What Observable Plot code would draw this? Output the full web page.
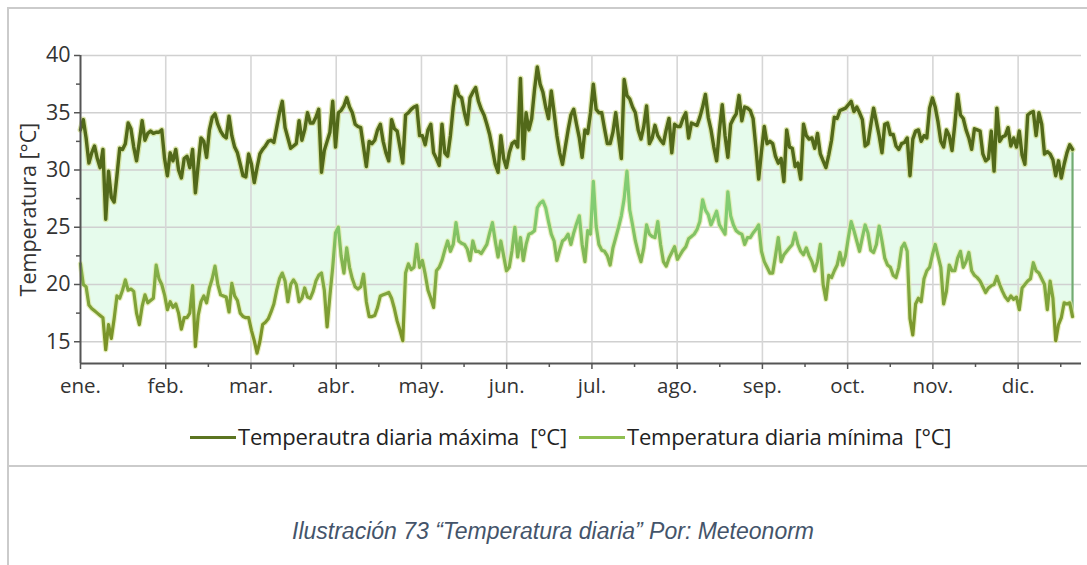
<!DOCTYPE html>
<html><head><meta charset="utf-8">
<script src="https://cdn.jsdelivr.net/npm/d3@7"></script>
<script src="https://cdn.jsdelivr.net/npm/@observablehq/plot@0.6"></script>
<style>
html,body{margin:0;padding:0;background:#fff;}
body{width:1087px;height:565px;position:relative;overflow:hidden;font-family:"Open Sans",sans-serif;}
#frame{position:absolute;left:7px;top:7px;width:1100px;height:600px;border-top:2px solid #cbcbcb;border-left:2px solid #cbcbcb;}
#sep{position:absolute;left:7px;width:1090px;top:465px;height:2px;background:#cbcbcb;}
#chart{position:absolute;left:0;top:0;}
.sw{position:absolute;height:3px;top:436px;}
.lt{position:absolute;top:423px;font-size:22px;line-height:26px;color:#222;white-space:nowrap;letter-spacing:-0.2px;}
#caption{position:absolute;left:0;width:1106px;text-align:center;top:518px;font-family:"Liberation Sans",Arial,sans-serif;font-style:italic;font-size:23px;color:#44546a;white-space:nowrap;}
</style></head>
<body>
<div id="frame"></div>
<div id="chart"></div>
<div class="sw" style="left:190px;width:46px;background:#5b7420"></div>
<div class="lt" id="lt1" style="left:238px">Temperautra diaria máxima&nbsp; [°C]</div>
<div class="sw" style="left:579px;width:46px;background:#8fbf50"></div>
<div class="lt" id="lt2" style="left:627px">Temperatura diaria mínima&nbsp; [°C]</div>
<div id="sep"></div>
<div id="caption">Ilustración 73 “Temperatura diaria” Por: Meteonorm</div>
<script>
const monthLabels = ["ene.","feb.","mar.","abr.","may.","jun.","jul.","ago.","sep.","oct.","nov.","dic."];
const yTickValues = [15,20,25,30,35,40];
const yMinorTicks = [17.5,22.5,27.5,32.5,37.5];

const maxTemp = [
33.5,34.4,32.8,30.6,31.5,32.1,31.0,30.2,31.8,25.7,
29.9,27.6,27.2,29.5,31.9,31.8,32.3,34.1,33.6,32.0,
30.8,32.5,34.3,32.6,33.2,33.4,33.2,33.3,33.3,33.5,
31.0,29.5,31.5,30.8,31.8,30.0,29.3,31.0,31.2,30.2,
31.8,28.0,30.5,32.8,32.5,31.1,33.5,34.6,34.9,34.0,
33.4,33.0,32.8,34.7,33.0,32.0,31.5,30.5,29.5,29.4,
31.4,30.5,28.9,30.2,31.4,31.8,32.1,32.5,32.6,32.4,
33.7,35.0,36.0,33.7,32.8,31.9,32.1,32.3,34.3,32.6,
33.5,35.0,34.1,34.1,34.6,35.3,29.8,31.7,32.5,33.3,
36.0,32.0,35.0,35.2,35.6,36.3,35.5,35.0,34.0,33.8,
33.7,32.0,30.3,32.5,32.3,32.6,33.5,34.0,32.5,31.5,
30.8,34.4,33.6,33.4,32.0,30.6,34.8,35.0,35.3,35.5,
35.6,33.0,33.0,32.2,33.5,34.0,31.5,31.0,30.4,34.0,
31.5,31.2,33.0,35.5,37.3,36.5,36.3,35.0,34.0,36.3,
36.8,37.2,36.0,35.3,34.8,34.0,33.1,31.8,30.5,29.8,
33.0,31.0,30.2,31.5,32.3,32.5,32.0,38.0,31.0,35.0,
33.5,34.5,37.0,39.0,37.5,36.8,35.5,34.5,36.9,35.0,
33.0,31.5,30.5,32.0,33.5,34.8,35.3,34.0,32.8,31.1,
33.5,33.2,35.0,37.5,35.3,35.0,35.0,33.6,32.3,32.3,
33.3,35.0,32.9,31.0,37.9,36.5,36.2,35.5,35.0,33.5,
32.7,33.8,35.6,32.3,32.8,33.9,33.0,32.6,32.3,33.5,
34.5,31.5,34.0,33.8,33.8,34.5,35.0,32.8,34.1,34.0,
33.9,34.6,35.5,36.6,34.6,33.5,32.0,30.8,33.5,35.7,
33.0,31.1,34.0,34.5,34.9,36.5,34.3,35.5,35.4,35.2,
34.5,32.0,29.2,31.6,33.8,32.3,32.5,32.3,31.2,30.6,
31.0,29.0,33.5,32.0,31.9,30.3,30.6,29.2,34.0,33.0,
32.7,32.8,31.9,33.2,31.4,30.8,30.2,31.3,32.6,34.6,
34.5,35.2,35.3,35.4,35.7,36.0,35.1,35.5,35.0,34.4,
32.1,32.3,33.9,35.4,34.2,33.0,31.5,34.0,34.1,33.1,
33.1,32.1,31.8,32.3,32.4,32.8,29.5,32.7,33.4,33.5,
32.5,33.0,32.8,35.4,36.3,35.5,34.2,32.5,32.0,33.5,
33.0,31.7,34.0,36.6,34.8,34.5,33.5,32.8,31.8,33.6,
33.5,33.4,31.4,30.8,31.0,33.4,29.9,35.4,32.5,32.9,
33.0,33.7,32.1,32.8,32.0,33.4,31.3,30.5,34.8,35.0,
35.1,33.0,35.0,34.0,31.4,31.6,31.4,30.9,29.5,30.8,
29.3,30.5,31.5,32.2,31.8
];

const minTemp = [
21.8,20.0,19.8,18.2,17.9,17.7,17.5,17.3,17.1,14.3,
16.5,15.3,17.0,19.0,18.8,19.5,20.4,19.5,19.6,19.4,
17.5,16.5,18.1,19.1,18.4,18.6,18.8,21.7,20.5,20.0,
19.1,17.8,18.5,18.0,18.3,17.5,16.1,17.1,17.1,17.5,
19.9,14.6,17.3,18.5,19.0,18.4,19.7,20.5,21.6,20.0,
19.1,19.0,18.9,17.6,20.1,19.0,18.6,17.5,17.2,17.1,
17.1,16.0,15.1,14.0,15.0,16.5,16.7,17.0,17.6,18.3,
19.5,20.5,21.0,20.3,18.5,20.0,20.4,20.0,18.5,18.8,
19.7,18.9,18.8,19.4,20.3,20.8,21.0,19.5,16.3,19.0,
21.5,24.5,25.0,22.5,21.0,23.2,21.5,20.5,19.8,19.6,
19.8,20.9,18.5,17.2,17.2,17.3,18.0,19.0,19.1,19.2,
19.3,18.8,17.9,16.8,16.0,15.1,21.0,21.8,21.3,21.5,
23.5,21.5,22.1,20.9,19.5,18.8,18.0,21.2,21.5,22.1,
23.0,23.8,22.9,23.5,25.4,23.8,23.6,23.5,23.1,22.1,
23.8,22.9,22.9,22.7,23.1,23.5,24.5,25.4,23.8,22.4,
23.8,22.5,21.2,21.5,23.0,25.0,22.4,24.1,22.1,23.5,
24.4,24.5,24.7,26.7,27.1,27.3,26.7,25.5,24.4,23.8,
22.1,23.0,23.8,24.0,24.4,23.5,24.5,25.3,26.0,23.5,
22.0,24.7,24.4,29.0,25.1,23.5,23.0,22.9,22.5,21.7,
23.2,24.1,25.0,26.0,27.5,29.9,26.5,25.2,23.8,22.8,
22.0,23.2,25.2,24.4,24.2,24.1,25.5,23.5,22.0,21.6,
22.3,22.8,23.3,22.2,22.6,23.0,23.3,24.0,24.2,24.4,
24.8,25.5,27.4,26.5,26.1,25.2,25.8,26.4,25.2,24.8,
24.4,28.1,26.0,25.2,24.7,24.5,24.4,23.5,24.1,24.1,
24.5,24.8,25.2,22.9,22.0,21.5,21.0,21.0,22.5,24.1,
22.0,22.6,22.9,23.2,23.5,24.5,23.5,22.9,22.6,23.2,
22.5,22.0,21.2,22.0,23.5,20.0,18.7,20.8,20.6,21.2,
21.7,22.8,21.7,22.5,24.1,25.5,24.7,23.8,22.9,24.1,
25.2,24.5,23.0,22.8,23.5,25.1,23.8,22.3,21.7,21.5,
20.8,20.6,21.5,23.2,23.6,22.9,17.0,15.6,18.3,18.8,
18.5,20.5,21.2,21.5,22.6,23.5,22.5,21.5,18.3,19.4,
21.7,21.2,21.2,22.3,22.9,21.5,22.0,22.8,21.2,20.8,
20.6,20.3,19.8,19.3,19.7,19.9,20.0,20.7,20.0,19.4,
18.9,18.6,19.0,18.7,18.9,17.8,19.7,20.0,20.3,20.5,
21.9,21.2,21.0,20.5,20.0,17.8,20.3,18.8,15.1,16.5,
17.1,18.4,18.3,18.4,17.2
];

const daysPerMonth = 365 / 12;
const data = maxTemp.map((v, i) => ({d: i, max: v, min: minTemp[i]}));
const last = data[data.length - 1];
const months = monthLabels.map((label, k) => ({label, pos: k * daysPerMonth}));
const halfMonths = monthLabels.map((label, k) => (k + 0.5) * daysPerMonth);

const X0 = 0, X1 = 357.2, Y0 = 13.1, Y1 = 40;
const pxPerDay = (1081 - 80) / (X1 - X0);
const pxPerDeg = (363 - 55) / (Y1 - Y0);
const MIN_COLOR = "#7fb04a";

const chart = Plot.plot({
  width: 1087, height: 410,
  marginLeft: 80, marginRight: 6, marginTop: 55, marginBottom: 47,
  style: {background: "transparent", fontFamily: "'Open Sans', sans-serif", overflow: "visible"},
  x: {domain: [X0, X1], axis: null},
  y: {domain: [Y0, Y1], axis: null},
  marks: [
    Plot.areaY(data, {x: "d", y1: "min", y2: "max", fill: "#e6fbec", curve: "linear"}),
    Plot.ruleY(yTickValues, {x1: X0, x2: X1, stroke: "#d0d0d0", strokeWidth: 1.6}),
    Plot.ruleX(months.slice(1), {x: "pos", y1: Y0, y2: Y1, stroke: "#d6d6d6", strokeWidth: 1.6}),
    Plot.ruleX([last], {x: "d", y1: "min", y2: "max", stroke: "#72ab72", strokeWidth: 2.2}),
    Plot.line(data, {x: "d", y: "min", stroke: "#dfeaa6", strokeWidth: 5.5, strokeOpacity: 0.7}),
    Plot.line(data, {x: "d", y: "max", stroke: "#cfdc8c", strokeWidth: 6, strokeOpacity: 0.7}),
    Plot.line(data, {x: "d", y: "min", stroke: MIN_COLOR, strokeWidth: 3.2}),
    Plot.line(data, {x: "d", y: "max", stroke: "#52691a", strokeWidth: 3.4}),
    // axis lines
    Plot.ruleX([X0], {y1: Y0, y2: Y1, stroke: "#555", strokeWidth: 2}),
    Plot.ruleY([Y0], {x1: X0, x2: X1, stroke: "#555", strokeWidth: 2}),
    // y ticks
    Plot.ruleY(yTickValues, {x1: X0 - 6 / pxPerDay, x2: X0, stroke: "#555", strokeWidth: 1.5}),
    Plot.ruleY(yMinorTicks, {x1: X0 - 4 / pxPerDay, x2: X0, stroke: "#555", strokeWidth: 1.5}),
    Plot.text(yTickValues, {x: X0, y: d => d, text: d => String(d), textAnchor: "end", dx: -10, fontSize: 21.5, fill: "#333"}),
    // x ticks
    Plot.ruleX(months, {x: "pos", y1: Y0, y2: Y0 - 6 / pxPerDeg, stroke: "#555", strokeWidth: 1.5}),
    Plot.ruleX(halfMonths, {x: d => d, y1: Y0, y2: Y0 - 4 / pxPerDeg, stroke: "#555", strokeWidth: 1.5}),
    Plot.text(months, {x: "pos", y: Y0, text: "label", dy: 23, fontSize: 20.5, fill: "#333"}),
    // y label
    Plot.text(["Temperatura [°C]"], {x: X0, y: (Y0 + Y1) / 2, dx: -51, text: d => d, rotate: -90, fontSize: 21.5, fill: "#333"})
  ]
});
document.getElementById("chart").appendChild(chart);

// gradient for the minimum line (olive at low values, fresh green at high values)
const svg = chart.tagName.toLowerCase() === "svg" ? chart : chart.querySelector("svg");
const ns = "http://www.w3.org/2000/svg";
const defs = document.createElementNS(ns, "defs");
const grad = document.createElementNS(ns, "linearGradient");
grad.setAttribute("id", "minGrad");
grad.setAttribute("gradientUnits", "userSpaceOnUse");
grad.setAttribute("x1", "0"); grad.setAttribute("x2", "0");
grad.setAttribute("y1", "340"); grad.setAttribute("y2", "215");
[["0", "#7a9226"], ["0.5", "#82ac45"], ["1", "#82cc72"]].forEach(([o, c]) => {
  const s = document.createElementNS(ns, "stop");
  s.setAttribute("offset", o); s.setAttribute("stop-color", c);
  grad.appendChild(s);
});
defs.appendChild(grad);
svg.insertBefore(defs, svg.firstChild);
svg.querySelectorAll('[stroke="' + MIN_COLOR + '"]').forEach(el => el.setAttribute("stroke", "url(#minGrad)"));
</script>
</body></html>
